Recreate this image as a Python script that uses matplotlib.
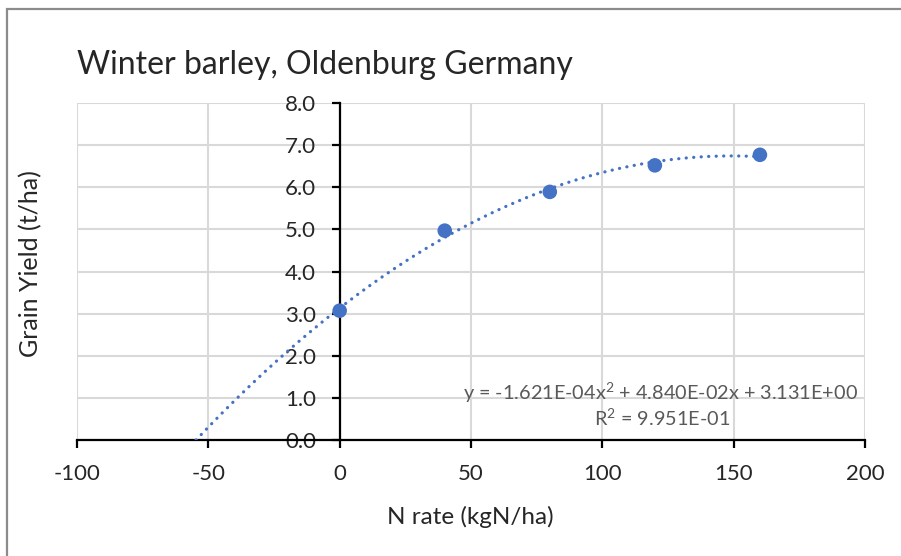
import numpy as np
import matplotlib.pyplot as plt
from matplotlib.patches import Rectangle

plt.rcParams['font.family'] = ['Lato', 'DejaVu Sans']
plt.rcParams['axes.unicode_minus'] = False
plt.rcParams['mathtext.fontset'] = 'custom'
plt.rcParams['mathtext.rm'] = 'Lato'
plt.rcParams['mathtext.default'] = 'rm'

# N rate trial data
n_rate = [0, 40, 80, 120, 160]
grain_yield = [3.07, 4.97, 5.89, 6.52, 6.77]

# quadratic trendline coefficients (a*x^2 + b*x + c)
coef_a = -1.621e-04
coef_b = 4.840e-02
coef_c = 3.131e+00
r_squared = 9.951e-01

x_ticks = [-100, -50, 0, 50, 100, 150, 200]
y_ticks = [0, 1, 2, 3, 4, 5, 6, 7, 8]

blue = '#4472C4'
dark = '#262626'
grey_text = '#595959'

fig = plt.figure(figsize=(9.01, 5.56), dpi=100)
ax = fig.add_axes([77 / 901, 1 - 440 / 556, 788 / 901, 337 / 556])

# trendline from where it crosses zero up to the last point
disc = np.sqrt(coef_b**2 - 4 * coef_a * coef_c)
root = min((-coef_b - disc) / (2 * coef_a), (-coef_b + disc) / (2 * coef_a))
xs = np.linspace(root, max(n_rate), 400)
ax.plot(xs, coef_a * xs**2 + coef_b * xs + coef_c, color=blue, lw=2.3,
        linestyle=(0, (0.05, 2.3)), dash_capstyle='round', zorder=3)
ax.scatter(n_rate, grain_yield, s=110, color=blue, zorder=4, edgecolors='none')

ax.set_xlim(-100, 200)
ax.set_ylim(0, 8)
ax.set_xticks(x_ticks)
ax.set_yticks(y_ticks)
ax.set_yticklabels([f'{v:.1f}' for v in y_ticks])

ax.spines['top'].set_visible(False)
ax.spines['right'].set_visible(False)
ax.spines['left'].set_position(('data', 0))
ax.spines['bottom'].set_position(('data', 0))
for s in ('left', 'bottom'):
    ax.spines[s].set_linewidth(1.6)
    ax.spines[s].set_color('black')
    ax.spines[s].set_zorder(2)

ax.grid(True, color='#d9d9d9', lw=1.5, zorder=0)
ax.set_axisbelow(True)
ax.tick_params(axis='both', direction='out', length=6, width=1.6, color='black',
               labelsize=16, labelcolor=dark)
ax.tick_params(axis='y', pad=11)
ax.tick_params(axis='x', pad=11)
for lbl in ax.get_xticklabels() + ax.get_yticklabels():
    lbl.set_zorder(5)

ax.set_xlabel('N rate (kgN/ha)', fontsize=17.5, color=dark)
ax.xaxis.set_label_coords((470 - 77) / 788, -(517 - 440) / 337)
ax.xaxis.label.set_va('center')
fig.text(31 / 901, 1 - 264 / 556, 'Grain Yield (t/ha)', rotation=90,
         fontsize=18, color=dark, ha='center', va='center')

fig.text(77 / 901, 1 - 74 / 556, 'Winter barley, Oldenburg Germany',
         fontsize=23, color=dark, ha='left', va='baseline')

# trendline equation and R²
fig.text(858 / 901, 1 - 400 / 556,
         'y = -1.621E-04x$^{2}$ + 4.840E-02x + 3.131E+00',
         ha='right', va='baseline', fontsize=14.3, color=grey_text)
fig.text(662 / 901, 1 - 426 / 556, f'R$^{{2}}$ = {r_squared:.3E}',
         ha='center', va='baseline', fontsize=14.3, color=grey_text)

fig.add_artist(Rectangle((6.5 / 901, -0.1), 1.2, (556 - 9) / 556 + 0.1,
                         transform=fig.transFigure, fill=False,
                         ec='#8c8c8c', lw=1.6))

fig.savefig('out.png', dpi=100)
